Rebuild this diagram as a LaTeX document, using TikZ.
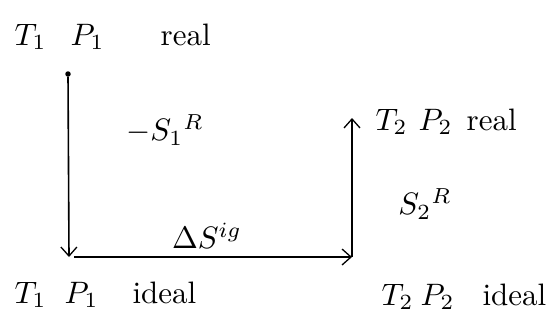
\documentclass[tikz,border=0pt]{standalone}
\usetikzlibrary{arrows.meta}
\begin{document}
\begin{tikzpicture}[x=1pt,y=-1pt,
  lab/.style={inner sep=0pt,scale=3.1,transform shape,anchor=base west},
  mlab/.style={inner sep=0pt,scale=3.1,transform shape},
  conn/.style={line width=1.6pt,-{Straight Barb[length=9pt,width=16pt,line width=1.3pt]}}]
\useasboundingbox (0,0) rectangle (557,327);
\fill[white] (0,0) rectangle (557,327);
% corners
\node[circle,fill,inner sep=0pt,minimum size=5.5pt] (a) at (68,74) {};
\coordinate (b) at (69,257);
\coordinate (c) at (352,257);
\coordinate (d) at (352,118);
\draw[conn] (a) -- (b);
\draw[conn,shorten <=5pt] (b) -- (c);
\draw[conn] (c) -- (d);
% state labels
\node[lab] (t1) at (14,45) {$T_1$};
\node[lab] (p1) at (70,45) {$P_1$};
\node[lab] (r1) at (160,45) {real};
\node[lab] (t2) at (375,130) {$T_2$};
\node[lab] (p2) at (418,130) {$P_2$};
\node[lab] (r2) at (466,130) {real};
\node[lab] (t3) at (14,303) {$T_1$};
\node[lab] (p3) at (64,303) {$P_1$};
\node[lab] (i3) at (132,303) {ideal};
\node[lab] (t4) at (381,305) {$T_2$};
\node[lab] (p4) at (420,305) {$P_2$};
\node[lab] (i4) at (482,305) {ideal};
% step labels
\node[mlab] (m1) at (165,130) {$-S_1{}^{R}$};
\node[mlab] (m2) at (207,236) {$\Delta S^{ig}$};
\node[mlab] (m3) at (425,204) {$S_{2}{}^{R}$};
\end{tikzpicture}
\end{document}
